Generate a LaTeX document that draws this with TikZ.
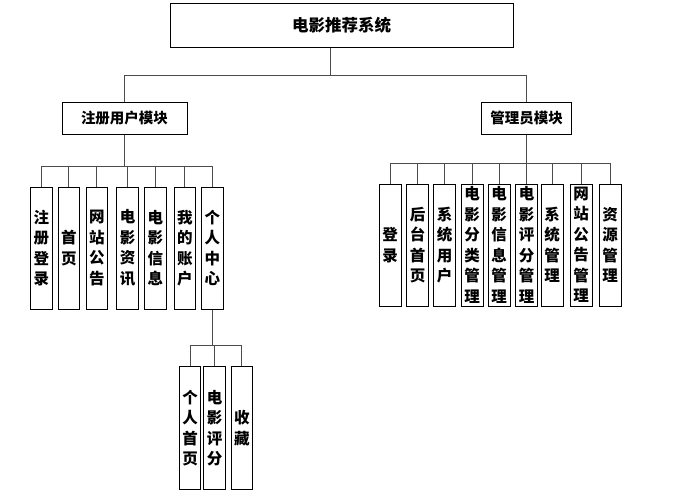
\documentclass[tikz,border=0pt]{standalone}
\usepackage{fontspec}
\newfontfamily\cjk{Noto Sans CJK SC}
\begin{document}
\begin{tikzpicture}[x=1pt,y=-1pt,
 box/.style={draw=black, line width=1pt, inner sep=0pt, align=center},
 leaf/.style={box, minimum width=21.5pt, minimum height=122pt, font=\cjk\bfseries\fontsize{15.5}{20.5}\selectfont},
 conn/.style={draw=black!70, line width=1pt}]
\useasboundingbox (0,0) rectangle (673,496);
\node[box, minimum width=343pt, minimum height=44pt, font=\cjk\bfseries\fontsize{16.5}{20}\selectfont] (root) at (341.5,25) {电影推荐系统};
\node[box, minimum width=125pt, minimum height=32pt, font=\cjk\bfseries\fontsize{14.5}{18}\selectfont] (L) at (124.5,118) {注册用户模块};
\node[box, minimum width=90pt, minimum height=32pt, font=\cjk\bfseries\fontsize{14.5}{18}\selectfont] (R) at (526.7,118) {管理员模块};
\coordinate (bt) at (330,75);
\draw[conn] (root.south -| bt) -- (bt);
\draw[conn] (L.north) |- (bt);
\draw[conn] (R.north) |- (bt);
% left leaves
\node[leaf] (l1) at (41.5,248) {注\\册\\登\\录};
\node[leaf] (l2) at (68.8,248) {首\\页};
\node[leaf] (l3) at (96.8,248) {网\\站\\公\\告};
\node[leaf] (l4) at (127.5,248) {电\\影\\资\\讯};
\node[leaf] (l5) at (155.3,248) {电\\影\\信\\息};
\node[leaf] (l6) at (184.8,248) {我\\的\\账\\户};
\node[leaf] (l7) at (212.3,248) {个\\人\\中\\心};
\coordinate (bl) at (124.5,166);
\draw[conn] (L.south) -- (bl);
\foreach \n in {l1,l2,l3,l4,l5,l6,l7} \draw[conn] (\n.north) |- (bl);
% right leaves
\node[leaf, minimum width=22pt] (r1) at (390.2,245) {登\\录};
\node[leaf, minimum width=22pt] (r2) at (417.7,245) {后\\台\\首\\页};
\node[leaf, minimum width=22pt] (r3) at (444.7,245) {系\\统\\用\\户};
\node[leaf, minimum width=22pt] (r4) at (472,245) {电\\影\\分\\类\\管\\理};
\node[leaf, minimum width=22pt] (r5) at (499,245) {电\\影\\信\\息\\管\\理};
\node[leaf, minimum width=22pt] (r6) at (526.7,245) {电\\影\\评\\分\\管\\理};
\node[leaf, minimum width=22pt] (r7) at (552,245) {系\\统\\管\\理};
\node[leaf, minimum width=22pt] (r8) at (581,245) {网\\站\\公\\告\\管\\理};
\node[leaf, minimum width=22pt] (r9) at (610,245) {资\\源\\管\\理};
\coordinate (br) at (526.7,163.3);
\draw[conn] (R.south) -- (br);
\foreach \n in {r1,r2,r3,r4,r5,r6,r7,r8,r9} \draw[conn] (\n.north) |- (br);
% third level
\node[leaf, minimum height=123.3pt] (c1) at (190,428.3) {个\\人\\首\\页};
\node[leaf, minimum height=123.3pt, minimum width=22pt] (c2) at (214.7,428.3) {电\\影\\评\\分};
\node[leaf, minimum height=123.3pt] (c3) at (241.8,428.3) {收\\藏};
\coordinate (bc) at (212.3,345);
\draw[conn] (l7.south) -- (bc);
\foreach \n in {c1,c2,c3} \draw[conn] (\n.north) |- (bc);
\end{tikzpicture}
\end{document}
